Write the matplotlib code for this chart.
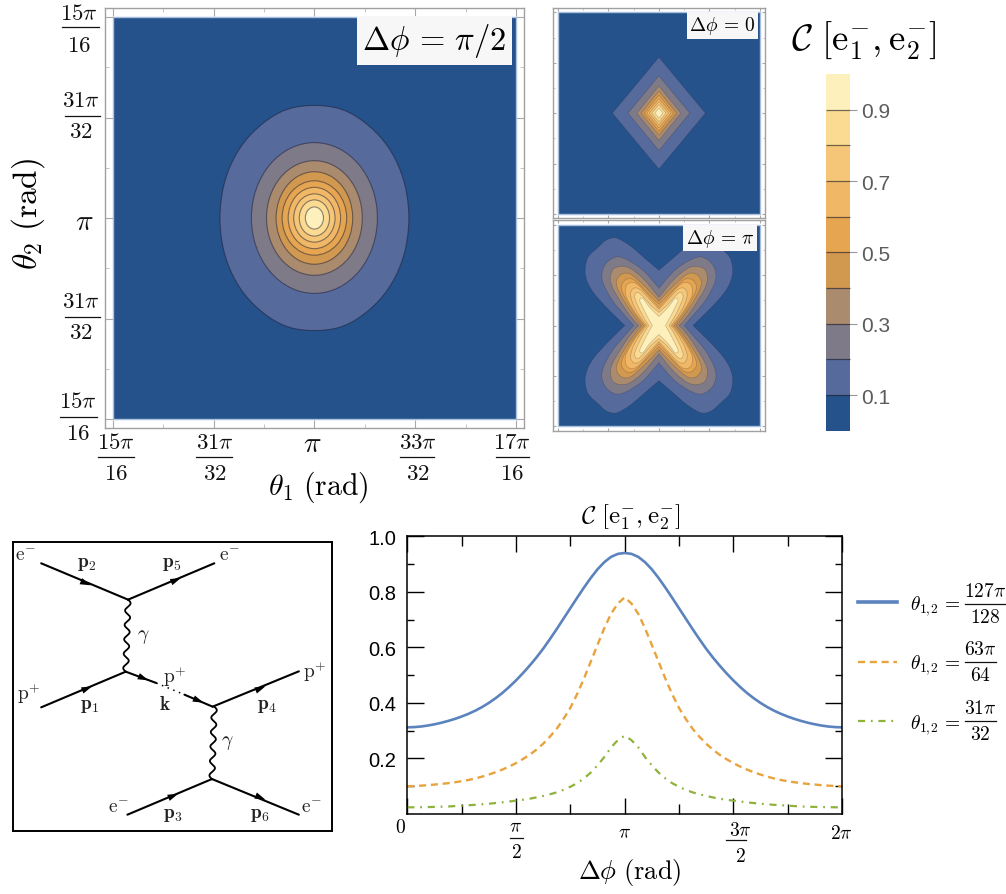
import numpy as np
import matplotlib
matplotlib.use("Agg")
import matplotlib.pyplot as plt
from matplotlib.colors import ListedColormap, BoundaryNorm
from matplotlib.colorbar import Colorbar
from matplotlib.lines import Line2D
from matplotlib.patches import Ellipse, PathPatch, Polygon, Rectangle
from matplotlib.path import Path
from matplotlib.ticker import NullLocator
from matplotlib.transforms import Affine2D

plt.rcParams["mathtext.fontset"] = "cm"
plt.rcParams["font.family"] = ["Liberation Sans", "DejaVu Sans"]

W, H = 1006, 895

# ---------------- data ----------------
LEVELS = [0, .1, .2, .3, .4, .5, .6, .7, .8, .9, 1.0]
BAND_COLORS = ["#25528A", "#566A9B", "#7F7A88", "#AA8B6E", "#D1984F",
               "#E6A551", "#EFB766", "#F5C677", "#FBDB92", "#FDF0BC"]

# dphi = pi/2 panel: contour half-widths (1/100 of pi/32)
MAIN_L1 = [(93.7, 0), (90, 32), (80, 59), (65, 81), (44.5, 99), (24, 109), (0, 112)]
MAIN_RX = [62.5, 47.5, 38, 32, 26, 20.5, 15, 9]
MAIN_RY = [75, 57, 46, 37, 30.5, 24, 18, 11]

# dphi = 0 panel: rhombus half-diagonals (1/50 of pi/32), levels .1 to .9
DIAM_RX = [46, 30.5, 21.7, 17.5, 14.5, 12, 9.5, 7, 4]
DIAM_RY = [55.5, 37, 27, 21.7, 18, 14.5, 11.5, 8.5, 5]

# dphi = pi panel: first-quadrant contour traces (1/50 of pi/32), levels .1 to .9
CROSS = [
    [(33.7, 0), (50.7, 16.7), (64, 31.7), (70.7, 43.3), (73, 55), (70, 68), (60, 78), (52, 85), (42, 87), (28, 79), (14, 67), (0, 55)],
    [(25, 0), (32, 8), (46, 25), (55, 42), (56, 54), (50, 64), (38, 68), (17, 56), (0, 37)],
    [(20, 0), (28, 9), (38, 24), (46, 38), (48, 48), (44, 57), (31, 58), (16, 47), (0, 28)],
    [(17, 0), (24, 9), (33, 22), (40, 35), (42, 44), (37, 51), (28, 51), (14, 39), (0, 24)],
    [(15, 0), (22, 9), (30, 21), (36, 33), (37, 40), (32, 46), (24, 45), (12, 33), (0, 21)],
    [(13.5, 0), (20, 8), (28, 20), (33, 31), (32, 40), (26, 43), (19, 39), (10, 29), (0, 18)],
    [(12, 0), (18, 8), (25, 20), (28, 31), (25, 37), (19, 36), (10, 27), (0, 16)],
    [(10, 0), (15, 8), (21, 20), (24, 29), (21, 33), (15, 28), (8, 20), (0, 13)],
    [(6.5, 0), (11, 8), (16, 18), (19, 25), (16, 27), (9, 18), (0, 9)],
]

# line chart: values at dphi = 0, pi/32, ... pi (symmetric about pi)
BLUE_HALF = [.312, .3129, .315, .3185, .323, .3285, .335, .3424, .351, .3607, .372, .385, .4, .417, .436, .4575, .481,
             .5065, .534, .5633, .595, .6298, .666, .7035, .741, .7785, .815, .8497, .881, .9068, .926, .9367, .94]
ORANGE_HALF = [.10, .1007, .102, .1038, .106, .1083, .111, .1143, .118, .1225, .128, .1345, .142, .1505, .16, .171, .183,
               .1975, .213, .2315, .253, .2785, .307, .3425, .382, .4315, .487, .548, .609, .669, .721, .758, .78]
GREEN_HALF = [.024, .0242, .0245, .025, .0255, .0262, .027, .0285, .030, .0315, .033, .035, .037, .0395, .042, .045, .048,
              .0513, .055, .0597, .065, .071, .078, .087, .098, .111, .128, .149, .175, .205, .24, .266, .282]
LINE_LABELS = [r"$\theta_{1,\!2}\,=$", r"$\theta_{1,\!2}\,=$", r"$\theta_{1,\!2}\,=$"]
LINE_FRACS = [r"$127\pi$" "\n" r"$128$", r"$63\pi$" "\n" r"$64$", r"$31\pi$" "\n" r"$32$"]

THETA_TICKS_N = [30, 31, 32, 33, 34]  # multiples of pi/32
THETA_X_LABELS = [r"$15\pi$" "\n" r"$16$", r"$31\pi$" "\n" r"$32$", r"$\pi$", r"$33\pi$" "\n" r"$32$", r"$17\pi$" "\n" r"$16$"]
THETA_Y_LABELS = [r"$15\pi$" "\n" r"$16$", r"$31\pi$" "\n" r"$32$", r"$\pi$", r"$31\pi$" "\n" r"$32$", r"$15\pi$" "\n" r"$16$"]
DPHI_LABELS = [r"$0$", r"$\pi$" "\n" r"$2$", r"$\pi$", r"$3\pi$" "\n" r"$2$", r"$2\pi$"]

# Feynman diagram (diagram units)
SOLID_LINES = [((123, 103), (385, 212)), ((385, 212), (645, 103)),
               ((123, 535), (378, 428)), ((378, 428), (470, 462)),
               ((555, 497), (640, 533)), ((640, 533), (900, 427)),
               ((383, 857), (638, 750)), ((638, 750), (900, 857))]
DOTTED_LINE = ((470, 462), (555, 497))
PHOTONS = [((385, 212), (378, 428)), ((645, 533), (638, 750))]
ARROWS = [((258, 163), (2.4, 1)), ((530, 153), (2.4, -1)), ((262, 478), (2.4, -1)),
          ((432, 448), (2.4, 1)), ((598, 515), (2.4, 1)), ((785, 478), (2.4, -1)),
          ((522, 800), (2.4, -1)), ((785, 806), (2.4, 1))]
FEYN_LABELS = [(75, 78, r"$\mathrm{e}^{-}$"), (260, 105, r"$\mathbf{p}_2$"), (518, 105, r"$\mathbf{p}_5$"),
               (690, 78, r"$\mathrm{e}^{-}$"), (430, 322, r"$\gamma$"), (527, 440, r"$\mathrm{p}^{+}$"),
               (495, 525, r"$\mathbf{k}$"), (85, 492, r"$\mathrm{p}^{+}$"), (270, 530, r"$\mathbf{p}_1$"),
               (805, 530, r"$\mathbf{p}_4$"), (948, 425, r"$\mathrm{p}^{+}$"), (683, 640, r"$\gamma$"),
               (357, 835, r"$\mathrm{e}^{-}$"), (520, 855, r"$\mathbf{p}_3$"), (783, 855, r"$\mathbf{p}_6$"),
               (937, 835, r"$\mathrm{e}^{-}$")]

# ---------------- helpers ----------------
fig = plt.figure(figsize=(W / 100, H / 100), dpi=100)
PX = Affine2D().scale(1, -1).translate(0, H)  # pixel coords, origin at top left


def px_axes(l, t, r, b, **kw):
    return fig.add_axes([l / W, 1 - b / H, (r - l) / W, (b - t) / H], **kw)


def nudge(label, dx, dy):
    label.set_transform(label.get_transform() + Affine2D().translate(dx, -dy))


def bar(x0, x1, y, lw=.9):
    fig.add_artist(Line2D([x0, x1], [y, y], transform=PX, color="#111111", lw=lw))


def quad_path(points, unit, corners):
    q1 = [np.array(p, float) for p in points]
    q2 = [p * [-1, 1] for p in q1[-2::-1]]
    q3 = [p * [-1, -1] for p in q1[1:]]
    q4 = [p * [1, -1] for p in q1[-2:0:-1]]
    P = np.array(q1 + q2 + q3 + q4) * unit
    n = len(P)
    m = len(q1) - 1
    axis_pt = {0, m, 2 * m, 3 * m}
    verts, codes = [P[0]], [Path.MOVETO]
    for i in range(n):
        p0, p1, p2, p3 = P[i - 1], P[i], P[(i + 1) % n], P[(i + 2) % n]
        c1 = p1 + (p2 - p0) / 6
        c2 = p2 - (p3 - p1) / 6
        if corners and i in axis_pt:
            c1 = p1
        if corners and (i + 1) % n in axis_pt:
            c2 = p2
        verts += [c1, c2, p2]
        codes += [Path.CURVE4] * 3
    return Path(verts, codes)


def panel(frame, inner, major_len, minor_len, lw=1.0):
    l, t, r, b = frame
    il, it, ir, ib = inner
    ax = px_axes(l, t, r, b)
    lo, hi = 30 * np.pi / 32, 34 * np.pi / 32
    sx = (hi - lo) / (ir - il)
    sy = (hi - lo) / (ib - it)
    ax.set_xlim(lo - (il - l) * sx, hi + (r - ir) * sx)
    ax.set_ylim(lo - (b - ib) * sy, hi + (it - t) * sy)
    ticks = [n * np.pi / 32 for n in THETA_TICKS_N]
    minors = [(n + .5) * np.pi / 32 for n in THETA_TICKS_N[:-1]]
    ax.set_xticks(ticks)
    ax.set_yticks(ticks)
    ax.set_xticks(minors, minor=True)
    ax.set_yticks(minors, minor=True)
    ax.tick_params(which="major", direction="in", length=major_len, width=.8, color="#a8a8a8", top=True, right=True)
    ax.tick_params(which="minor", direction="in", length=minor_len, width=.7, color="#c4c4c4", top=True, right=True)
    for s in ax.spines.values():
        s.set_color("#a0a0a0")
        s.set_linewidth(lw)
    ax.add_patch(Rectangle((lo, lo), hi - lo, hi - lo, fc=BAND_COLORS[0], ec="#a9bfe0", lw=1.0, zorder=2.5))
    return ax


def add_band(ax, p, thin):
    ax.add_patch(p)
    p.set_zorder(3)
    p.set_edgecolor((.1, .1, .2, .24 if thin else .5))
    p.set_linewidth(.5 if thin else .8)


C = np.pi
# ---------------- main panel ----------------
ax = panel((105, 9.3, 524, 429), (112.8, 18, 516, 420), 5.8, 3)
U = np.pi / 32 / 100
m = quad_path(MAIN_L1, U, False)
add_band(ax, PathPatch(m.transformed(Affine2D().translate(C, C)), fc=BAND_COLORS[1]), False)
for i, (rx, ry) in enumerate(zip(MAIN_RX, MAIN_RY)):
    add_band(ax, Ellipse((C, C), 2 * rx * U, 2 * ry * U, fc=BAND_COLORS[i + 2]), False)
ax.set_xticklabels(THETA_X_LABELS, fontsize=16.5, linespacing=1.45)
ax.set_yticklabels(THETA_Y_LABELS, fontsize=16.5, linespacing=1.45, multialignment="center")
ax.tick_params(axis="x", pad=5, labelcolor="#111111")
ax.tick_params(axis="y", pad=5, labelcolor="#111111")
for lab, d, fs in zip(ax.get_xticklabels(), [(3, -5), (1, -5), (-2, -6), (3, -5), (-4, -5)], [16.5, 16.5, 21, 16.5, 16.5]):
    nudge(lab, *d)
    lab.set_fontsize(fs)
for lab, d, fs in zip(ax.get_yticklabels(), [(0, 5), (2, -9), (-4, 0), (2, -9), (-1, -9)][::-1], [16.5, 16.5, 21, 16.5, 16.5]):
    nudge(lab, *d)
    lab.set_fontsize(fs)
for x0, x1, y in [(62, 99, 28), (64.5, 100, 117), (64.5, 100, 317.7), (60.4, 97.4, 418),
                  (97.7, 134, 458), (195.8, 231.8, 458), (400, 434, 458), (496, 529, 458)]:
    bar(x0, x1, y)
ax.text(434.5, 41.5, r"$\Delta\phi\,=\,\pi/2$", fontsize=23.5, transform=PX, ha="center", va="center", zorder=6,
        bbox=dict(fc="#f7f7f7", ec="none", boxstyle="square,pad=0.16"))
fig.text(318, 487, r"$\theta_1\ (\mathrm{rad})$", fontsize=21.5, transform=PX, ha="center", va="center")
fig.text(28, 214, r"$\theta_2\ (\mathrm{rad})$", fontsize=24, transform=PX, ha="center", va="center", rotation=90)

# ---------------- side panels ----------------
V = np.pi / 32 / 50
ax0 = panel((553.4, 9.3, 765, 219), (557.8, 13.3, 760, 215), 2.2, 1.5)
for i, (rx, ry) in enumerate(zip(DIAM_RX, DIAM_RY)):
    xy = np.array([(rx, 0), (0, ry), (-rx, 0), (0, -ry)]) * V + C
    add_band(ax0, Polygon(xy, closed=True, fc=BAND_COLORS[i + 1]), True)
ax0.tick_params(which="both", labelbottom=False, labelleft=False)
ax0.text(722.5, 26.5, r"$\Delta\phi\,=\,0$", fontsize=14, transform=PX, ha="center", va="center", zorder=6,
         bbox=dict(fc="#f7f7f7", ec="none", boxstyle="square,pad=0.12"))

ax1 = panel((553.4, 221, 765, 431.7), (557.8, 226, 760, 427), 2.2, 1.5)
for i, pts in enumerate(CROSS):
    p = quad_path(pts, V, True)
    add_band(ax1, PathPatch(p.transformed(Affine2D().translate(C, C)), fc=BAND_COLORS[i + 1]), True)
ax1.tick_params(which="both", labelbottom=False, labelleft=False)
ax1.text(720, 239, r"$\Delta\phi\,=\,\pi$", fontsize=14, transform=PX, ha="center", va="center", zorder=6,
         bbox=dict(fc="#f7f7f7", ec="none", boxstyle="square,pad=0.12"))

# ---------------- colour bar ----------------
cax = px_axes(826, 75, 850, 431.7)
cmap = ListedColormap(BAND_COLORS)
norm = BoundaryNorm(LEVELS, cmap.N)
cb = Colorbar(cax, cmap=cmap, norm=norm, boundaries=LEVELS, ticks=[.1, .3, .5, .7, .9],
              spacing="proportional", drawedges=True)
cb.outline.set_visible(False)
cb.dividers.set_color((.1, .1, .15, .6))
cb.dividers.set_linewidth(.9)
cb.ax.yaxis.set_minor_locator(NullLocator())
cb.ax.tick_params(length=5, width=.8, color="#999999", labelcolor="#5c5c5c", labelsize=15, pad=3)
cb.ax.set_yticklabels(["0.1", "0.3", "0.5", "0.7", "0.9"])
fig.text(864, 40, r"$\mathcal{C}\ [\mathrm{e}_1^{-},\mathrm{e}_2^{-}]$", fontsize=26.5, transform=PX, ha="center", va="center")

# ---------------- Feynman diagram ----------------
fx = px_axes(13, 543.3, 332, 831.7)
fx.set_xlim(38, 1000)
fx.set_ylim(905, 40)
fx.set_xticks([])
fx.set_yticks([])
for s in fx.spines.values():
    s.set_linewidth(1.4)
for a, b in SOLID_LINES:
    fx.plot([a[0], b[0]], [a[1], b[1]], color="k", lw=1.5, solid_capstyle="round")
fx.plot([DOTTED_LINE[0][0], DOTTED_LINE[1][0]], [DOTTED_LINE[0][1], DOTTED_LINE[1][1]], color="k", lw=1.1, ls=(0, (1, 3)))
for a, b in PHOTONS:
    t = np.linspace(0, 1, 300)
    fx.plot(a[0] + (b[0] - a[0]) * t + 8 * np.sin(2 * np.pi * 5 * t), a[1] + (b[1] - a[1]) * t, color="k", lw=1.3)
for (cx, cy), (dx, dy) in ARROWS:
    k = 6
    fx.annotate("", xy=(cx + k * dx, cy + k * dy), xytext=(cx - k * dx, cy - k * dy),
                arrowprops=dict(arrowstyle="-|>,head_length=0.55,head_width=0.17", lw=0, color="k", mutation_scale=14,
                                shrinkA=0, shrinkB=0))
for x, y, s in FEYN_LABELS:
    fx.text(x, y, s, fontsize=14, ha="center", va="center", color="#222222")

# ---------------- line chart ----------------
lx = px_axes(407.3, 537.3, 842, 815)
dphi = np.arange(65) * np.pi / 32
styles = [dict(color="#5B83BD", lw=1.9),
          dict(color="#E8A33D", lw=1.7, ls=(0, (3, 2))),
          dict(color="#8FB23C", lw=1.6, ls=(0, (3.2, 2.6, .8, 2.6)))]
for half, lab, st in zip([BLUE_HALF, ORANGE_HALF, GREEN_HALF], LINE_LABELS, styles):
    lx.plot(dphi, half + half[-2::-1], label=lab, **st)
lx.set_xlim(0, 2 * np.pi)
lx.set_ylim(0, 1)
lx.set_xticks([0, np.pi / 2, np.pi, 3 * np.pi / 2, 2 * np.pi])
lx.set_xticks([np.pi / 4, 3 * np.pi / 4, 5 * np.pi / 4, 7 * np.pi / 4], minor=True)
lx.set_yticks([.2, .4, .6, .8, 1.0])
lx.set_yticks([.1, .3, .5, .7, .9], minor=True)
lx.tick_params(axis="x", which="major", direction="in", length=11.5, width=1, top=True, pad=3)
lx.tick_params(axis="x", which="minor", direction="in", length=7, width=1, top=True)
lx.tick_params(axis="y", which="major", direction="in", length=12, width=1, right=True, pad=8)
lx.tick_params(axis="y", which="minor", direction="in", length=4.8, width=1, right=True)
lx.set_xticklabels(DPHI_LABELS, fontsize=14, linespacing=1.55)
lx.tick_params(axis="y", labelsize=14.5)
for s in lx.spines.values():
    s.set_linewidth(1.1)
for tick in lx.xaxis.get_major_ticks()[2:3]:
    tick.tick1line.set_color("#888888")
    tick.tick2line.set_color("#888888")
lx.xaxis.get_major_ticks()[1].tick2line.set_color("#555555")
for tick in lx.xaxis.get_minor_ticks():
    tick.tick2line.set_color("#888888")
for lab, d in zip(lx.get_xticklabels(), [(-7, 0), (0, 0), (0, 6), (7, 3), (-1, 6)]):
    nudge(lab, *d)
bar(509.6, 523.2, 839)
bar(725.7, 745.5, 841)
fig.text(631, 517, r"$\mathcal{C}\ [\mathrm{e}_1^{-},\mathrm{e}_2^{-}]$", fontsize=18, transform=PX, ha="center", va="center")
fig.text(630, 873, r"$\Delta\phi\ (\mathrm{rad})$", fontsize=19, transform=PX, ha="center", va="center")
leg = lx.legend(loc="upper left", bbox_to_anchor=(858 / W, 1 - 594 / H), bbox_transform=fig.transFigure,
                frameon=False, fontsize=14, handlelength=2.0, handletextpad=.7, labelspacing=1.84, borderpad=0, borderaxespad=0)
leg.get_lines()[0].set_linewidth(2.6)
for frac, (cx, y0, x0, x1) in zip(LINE_FRACS, [(985, 605, 965, 1004.6), (980.5, 663, 965, 996), (980.5, 722, 965, 996)]):
    fig.text(cx, y0, frac, fontsize=14, transform=PX, ha="center", va="center", linespacing=1.6, multialignment="center")
    bar(x0, x1, y0)

fig.savefig("out.png", dpi=100)
